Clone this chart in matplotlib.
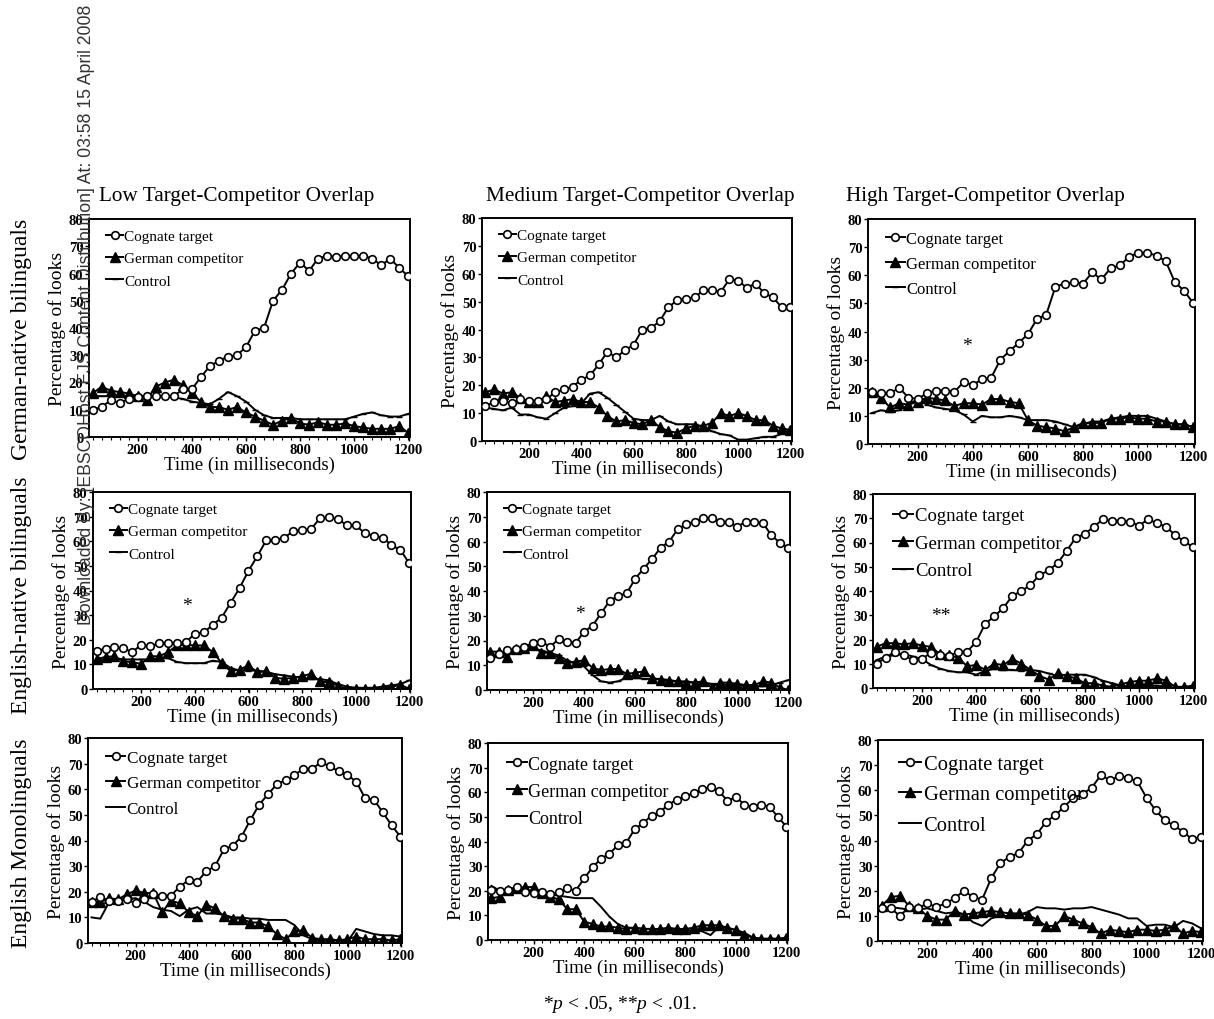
import numpy as np
import matplotlib.pyplot as plt
from matplotlib.ticker import FixedLocator

plt.rcParams['font.family'] = ['Liberation Serif', 'DejaVu Serif']
plt.rcParams['mathtext.fontset'] = 'custom'
plt.rcParams['mathtext.rm'] = 'Liberation Serif'
plt.rcParams['mathtext.it'] = 'Liberation Serif:italic'

# time bins (ms), one every ~33 ms
times = np.arange(1, 37) * 33.3

# German-native bilinguals
gn_low_cog = [10, 11, 13.5, 12.5, 14, 14.5, 15, 15, 15, 15, 17.5, 17.5, 22, 26, 28, 29.5, 30, 33,
              39, 40, 50, 54, 60, 64, 61, 65.5, 66.5, 66, 66.5, 66.5, 66.5, 65.5, 63, 65.5, 62, 59]
gn_low_tri = [16, 18.5, 17, 16.5, 16, 15, 13.5, 18.5, 20, 21, 19, 16, 13, 11, 11, 10, 11, 9,
              7.5, 6, 4.5, 6, 7, 5, 4.5, 5.5, 4.5, 4.5, 5, 4, 3.5, 3, 3, 3, 4, 1.5]
gn_low_ctl = [15, 15, 15, 15, 15, 15, 15, 15, 15, 14.5, 14, 13, 12.5, 12, 14, 16.5, 15, 13,
              10, 8, 7, 7, 7, 6.5, 6.5, 6.5, 6.5, 6.5, 6.5, 7.5, 8.5, 9, 8, 7.5, 7.5, 8.5]

gn_med_cog = [12.5, 14, 14.5, 13.5, 15, 14.5, 14.5, 15, 17.5, 18.5, 19.5, 22, 23.5, 27.5, 32, 30, 32.5, 34.5,
              40, 40.5, 43, 48, 50.5, 51, 51.5, 54, 54, 53.5, 58, 57.5, 55, 56.5, 53, 51.5, 48, 48]
gn_med_tri = [17.5, 18.5, 17, 17.5, 15.5, 14, 14, 16, 14, 14.5, 15, 14, 14, 12, 9, 7, 7.5, 6.5,
              6, 7.5, 5, 3.5, 3, 4.5, 5.5, 5.5, 6.5, 10, 9, 10, 9, 7.5, 7.5, 5.5, 4.5, 4]
gn_med_ctl = [12, 11.5, 11, 12, 9.5, 9.5, 8.5, 8, 10, 12, 12.5, 13.5, 17, 17.5, 15.5, 13, 10.5, 8,
              7.5, 7.5, 9, 7, 6, 6, 6, 5, 3.5, 2.5, 2, 0.5, 0.5, 1, 1.5, 1.5, 2.5, 3.5]

gn_high_cog = [18.5, 18, 18, 20, 16.5, 16, 18, 19, 19, 18.5, 22, 21, 23, 23.5, 30, 33, 36, 39,
               44.5, 46, 56, 57, 57.5, 57, 61, 58.5, 62.5, 63.5, 66.5, 68, 68, 67, 65, 57.5, 54.5, 50]
gn_high_tri = [18.5, 16.5, 13, 14.5, 14, 15, 16.5, 16, 15.5, 13.5, 14.5, 14.5, 14, 16, 16, 15, 14.5, 8.5,
               6.5, 6, 5.5, 4.5, 6, 7.5, 7.5, 7.5, 9, 9, 9.5, 9, 9, 8, 8, 7, 7, 6]
gn_high_ctl = [11, 12, 11.5, 12, 14, 16, 14, 13, 12.5, 12, 10.5, 8, 10, 9.5, 9.5, 10, 9.5, 8.5,
               8.5, 8.5, 8, 7, 6, 7, 8, 8, 9, 9.5, 10, 10, 10, 9, 8, 7, 7, 6]

# English-native bilinguals
en_low_cog = [15.5, 16.3, 17, 16.5, 15, 18, 17.4, 18.5, 18.5, 18.5, 19, 22.5, 23, 26, 29, 35, 41, 48,
              54, 60.5, 60.5, 61.5, 64, 64.5, 65, 69.3, 69.7, 69, 66.5, 66.5, 63.3, 62.2, 61.5, 58.4, 56.5, 51]
en_low_tri = [12.2, 13, 13.3, 11.3, 10.9, 10.2, 13.3, 13.3, 15, 17.7, 18, 17.7, 17.7, 15, 10.6, 7.2, 7.9, 9.6,
              6.8, 7.2, 4.5, 4.2, 4.5, 5.2, 6.2, 3.1, 2.7, 1.4, 0, 0, 0, 0, 0.4, 0.8, 1.8, 0]
en_low_ctl = [11.5, 12, 12.5, 12, 12, 12, 12, 12.5, 12.5, 11, 10.5, 10.5, 10.5, 11.5, 11, 8.5, 7.5, 7.5,
              7.5, 7, 6, 5.5, 5, 4.5, 4, 4, 3.5, 2, 1, 0.5, 0.5, 0.5, 1, 1.5, 2, 3.5]

en_med_cog = [13, 14.5, 16, 16.5, 17.5, 19, 19.5, 17.5, 20.5, 19.5, 19, 23.5, 26, 31, 36, 38, 39, 45,
              49, 53, 57.5, 60, 65, 67, 68, 69.5, 69.5, 68, 68, 66, 68, 68, 67.5, 62.5, 59.5, 57.5]
en_med_tri = [15.5, 15.5, 13.5, 16.5, 17, 18, 15, 15, 13, 11, 11.5, 12, 9, 8, 8.5, 8.5, 6.5, 7,
              7.5, 5, 4, 3.5, 3.5, 3, 3, 3.5, 1, 3, 3, 2.5, 2, 2, 3.5, 3, 1, 0]
en_med_ctl = [14, 14.5, 15, 15.5, 16, 16.5, 16, 15, 14, 12, 10.5, 9.5, 6, 3.5, 3, 3.5, 5, 5,
              4.5, 4.5, 4.5, 4, 3.5, 3.5, 3, 3, 2.5, 2.5, 2, 2, 1.5, 1.5, 1.5, 2, 3, 4]

en_high_cog = [10, 12.5, 15, 13.5, 11.5, 12, 14.5, 13.5, 13, 15, 15, 19, 26.5, 29.5, 33, 38, 40, 42.5,
               46.5, 48.5, 51.5, 56.5, 62, 63.5, 66.5, 69.5, 69, 69, 68.5, 67, 69.5, 68, 66.5, 63, 60.5, 58]
en_high_tri = [17, 18.5, 18.5, 18, 18.5, 17.5, 17, 14, 13.5, 12.5, 9, 9.5, 7.5, 10, 9.5, 12, 10, 7.5,
               5, 3.5, 6, 5, 4, 2, 2, 1, 0.5, 1.5, 2.5, 3, 3, 4, 3, 0.5, 0.5, 1]
en_high_ctl = [11.5, 13, 13.5, 14, 13, 12, 9.5, 8, 7, 6.5, 6.5, 5.5, 7, 8, 7.5, 7.5, 7, 7.5,
               7, 6, 5, 5.5, 5.5, 5.5, 4.5, 3, 2, 1, 0.5, 0.5, 1, 1, 0.5, 0, 0, 0]

# English monolinguals
mo_low_cog = [16, 18, 16.5, 16.5, 17, 15.5, 17, 19, 18.5, 18.5, 22, 24.5, 24, 28, 30, 36.5, 38, 41.5,
              48, 54, 58, 62, 63.5, 65.5, 68, 68, 70.5, 69, 67, 65.5, 63, 56.5, 56, 51, 46, 41.5]
mo_low_tri = [16, 16, 17.5, 17, 19, 20.5, 19.5, 19.5, 12, 16.5, 15.5, 12, 10.5, 15, 13.5, 10.5, 9.5, 9.5,
              8, 8, 6.5, 3.5, 1.5, 4.5, 5, 2, 1.5, 1.5, 1, 1.5, 2.5, 1.5, 1.5, 1.5, 1, 1.5]
mo_low_ctl = [10, 9.5, 16, 16.5, 17, 17.5, 16, 14, 13, 12.5, 10.5, 13, 14, 11.5, 11.5, 11, 10, 10,
              9.5, 9.5, 9, 9, 9, 7, 3, 1.5, 1, 1, 1, 0.5, 5.5, 4.5, 3.5, 3, 3, 2.5]

mo_med_cog = [20.5, 20, 20.5, 21.5, 19.5, 19, 19.5, 18.5, 19.5, 21, 20, 25, 29.5, 33, 35, 38.5, 39.5, 45,
              47.5, 50.5, 52, 55, 57, 58.5, 59.5, 61.5, 62, 60.5, 56.5, 58, 55, 54, 55, 54, 50, 46]
mo_med_tri = [17, 17.5, 20.5, 21, 21.5, 21.5, 19, 17.5, 16.5, 12.5, 12.5, 7.5, 6.5, 5.5, 5.5, 5, 4.5, 5,
              4.5, 4.5, 4.5, 5, 4.5, 4.5, 5, 6, 6, 6, 5, 4, 2, 1, 0.5, 0.5, 0.5, 1]
mo_med_ctl = [22, 20, 20.5, 20, 20, 19.5, 19, 18.5, 18, 17.5, 17, 17, 17, 13.5, 9.5, 6.5, 5, 5,
              4.5, 4.5, 4, 4, 4, 4, 4, 3.5, 2, 5.5, 5, 4, 3, 1, 0.5, 0.5, 0.5, 0.5]

mo_high_cog = [13, 13, 10, 13.5, 13, 15, 13.5, 15, 17, 20, 17.5, 16.5, 25, 31, 33.5, 35, 40, 42.5,
               47.5, 50, 53.5, 57, 58.5, 61, 66, 64, 65.5, 65, 63.5, 57, 52, 48, 46, 43.5, 40.5, 41.5]
mo_high_tri = [14, 17.5, 18, 14, 13, 10, 8.5, 8.5, 12, 10.5, 11, 11.5, 12, 11.5, 11, 11, 10.5, 8.5,
               6, 6, 10, 8.5, 7, 5.5, 3, 4.5, 4, 3.5, 4.5, 4.5, 4, 4.5, 6, 3, 4, 3.5]
mo_high_ctl = [13, 13.5, 13, 12.5, 12.5, 13, 12, 11, 11.5, 10.5, 7.5, 6, 9, 10, 10, 10.5, 11.5, 13.5,
               13, 13, 12.5, 13, 13, 13.5, 12.5, 11.5, 10.5, 9, 9, 6, 6.5, 6.5, 5.5, 8, 7, 5]

col_titles = ['Low Target-Competitor Overlap', 'Medium Target-Competitor Overlap',
              'High Target-Competitor Overlap']
row_labels = ['German-native bilinguals', 'English-native bilinguals', 'English Monolinguals']

panels = [
    [(gn_low_cog, gn_low_tri, gn_low_ctl), (gn_med_cog, gn_med_tri, gn_med_ctl), (gn_high_cog, gn_high_tri, gn_high_ctl)],
    [(en_low_cog, en_low_tri, en_low_ctl), (en_med_cog, en_med_tri, en_med_ctl), (en_high_cog, en_high_tri, en_high_ctl)],
    [(mo_low_cog, mo_low_tri, mo_low_ctl), (mo_med_cog, mo_med_tri, mo_med_ctl), (mo_high_cog, mo_high_tri, mo_high_ctl)],
]

# significance marks: (row, col, time, percent, text)
stars = [(0, 2, 380, 35, '*'), (1, 0, 370, 34, '*'), (1, 1, 385, 31, '*'), (1, 2, 270, 30, '**')]

W, H = 1214, 1020
fig = plt.figure(figsize=(W / 100, H / 100), dpi=100)

# axes boxes in pixels: left, top, right, bottom
boxes = [
    [(89, 220, 410, 438), (482, 219, 792, 442), (868, 220, 1195, 445)],
    [(93, 493, 411, 690), (487, 493, 790, 691), (873, 495, 1195, 689)],
    [(88, 739, 402, 944), (488, 744, 788, 941), (878, 741, 1203, 942)],
]
legend_sizes = [[11, 11, 12], [11, 11, 13.5], [12.3, 13, 14.8]]

axes = []
for r in range(3):
    row = []
    for c in range(3):
        x0, y0, x1, y1 = boxes[r][c]
        ax = fig.add_axes([x0 / W, 1 - y1 / H, (x1 - x0) / W, (y1 - y0) / H])
        cog, tri, ctl = panels[r][c]
        ctl_marker = '_' if r < 2 else None
        ax.plot(times, ctl, '-', color='black', lw=1.4, marker=ctl_marker, ms=4,
                label='Control', zorder=2)
        ax.plot(times, tri, '-^', color='black', lw=1.4, ms=7.5, label='German competitor', zorder=3)
        ax.plot(times, cog, '-o', color='black', mfc='white', mew=1.2, lw=1.4, ms=5.5,
                label='Cognate target', zorder=4)
        ax.set_xlim(20, 1205)
        ax.set_ylim(0, 80)
        ax.set_yticks(range(0, 81, 10))
        ax.set_xticks(range(200, 1201, 200))
        ax.xaxis.set_minor_locator(FixedLocator(times))
        ax.tick_params(axis='both', which='major', direction='out', length=3, width=1,
                       labelsize=10.5, pad=1)
        for lab in ax.get_xticklabels() + ax.get_yticklabels():
            lab.set_fontweight('bold')
        ax.tick_params(axis='x', which='minor', direction='out', length=2, width=0.8)
        for sp in ax.spines.values():
            sp.set_linewidth(1.4)
        ax.set_ylabel('Percentage of looks', fontsize=14, labelpad=2)
        ax.set_xlabel('Time (in milliseconds)', fontsize=13.5, labelpad=0)
        h, l = ax.get_legend_handles_labels()
        ax.legend(h[::-1], l[::-1], loc='upper left', frameon=False,
                  fontsize=legend_sizes[r][c], handlelength=1.1, handletextpad=0.1,
                  labelspacing=0.55, borderaxespad=0.3, bbox_to_anchor=(0.02, 1.0))
        row.append(ax)
    axes.append(row)

for r, c, tx, ty, s in stars:
    axes[r][c].text(tx, ty, s, fontsize=14, ha='center', va='center')

title_x = [237, 640, 985]
for c, t in enumerate(col_titles):
    fig.text(title_x[c] / W, 1 - 196 / H, t, fontsize=15.3, ha='center', va='center')

row_y = [339, 595, 843]
for r, t in enumerate(row_labels):
    fig.text(22 / W, 1 - row_y[r] / H, t, fontsize=17, rotation=90, ha='center', va='center')

fig.text(620 / W, 1 - 1005 / H, r'*$p$ < .05, **$p$ < .01.', fontsize=14, ha='center', va='center')

# download stamp running up the left side
fig.text(87 / W, 1 - 625 / H,
         'Downloaded By: [EBSCOHost EJS Content Distribution] At: 03:58 15 April 2008',
         fontsize=12.7, family=['Liberation Sans', 'DejaVu Sans'], color='#333333',
         rotation=90, ha='center', va='bottom', zorder=10)

fig.savefig('out.png', dpi=100)
